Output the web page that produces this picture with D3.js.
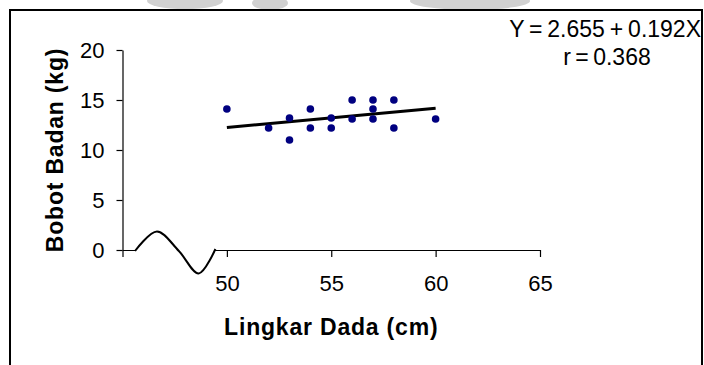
<!DOCTYPE html>
<html>
<head>
<meta charset="utf-8">
<script src="https://cdn.jsdelivr.net/npm/d3@7"></script>
<style>
  html, body { margin: 0; padding: 0; background: #fff; }
  svg { display: block; }
  text { font-family: Arial, "Liberation Sans", sans-serif; }
</style>
</head>
<body>
<svg id="chart" width="704" height="365"></svg>
<script>
// ---- data ----
const lingkarDada = [50, 52, 53, 53, 54, 54, 55, 55, 56, 56, 57, 57, 57, 58, 58, 60];
const bobotBadan  = [14.1, 12.2, 13.2, 11.0, 14.1, 12.2, 13.2, 12.2, 15.0, 13.1, 15.0, 14.1, 13.1, 15.0, 12.2, 13.1];
const trendX = [50, 60];
const trendY = [12.255, 14.175];
const xTicks = [45, 50, 55, 60, 65];
const xTickLabels = ["", "50", "55", "60", "65"];
const yTicks = [0, 5, 10, 15, 20];
const yTickLabels = ["0", "5", "10", "15", "20"];
const xTitle = "Lingkar Dada (cm)";
const yTitle = "Bobot Badan (kg)";
const equationText = "Y = 2.655 + 0.192X";
const rText = "r = 0.368";
// axis-break squiggle (data units, decoration only)
const breakX = [45.6, 46.65, 47.7, 48.65, 49.45];
const breakY = [-0.1, 1.85, -0.1, -2.35, 0.1];

const svg = d3.select("#chart");

// faint watermark fragments at the top edge
const wm = svg.append("g").attr("fill", "#9a9a9a").attr("opacity", 0.45);
wm.append("ellipse").attr("cx", 185).attr("cy", 1).attr("rx", 38).attr("ry", 8);
wm.append("ellipse").attr("cx", 270).attr("cy", 3).attr("rx", 18).attr("ry", 7);
wm.append("ellipse").attr("cx", 470).attr("cy", 1).attr("rx", 60).attr("ry", 9);

// frame
svg.append("rect")
  .attr("x", 10).attr("y", 10).attr("width", 692).attr("height", 420)
  .attr("fill", "#fff").attr("stroke", "#000").attr("stroke-width", 2);

const x = d3.scaleLinear().domain([45, 65]).range([122.5, 540]);
const y = d3.scaleLinear().domain([0, 20]).range([250, 50]);

// y axis
const yAxis = d3.axisLeft(y)
  .tickValues(yTicks)
  .tickFormat((d, i) => yTickLabels[i])
  .tickSizeInner(6).tickSizeOuter(0).tickPadding(12);
const gy = svg.append("g").attr("transform", `translate(${x(45)},0)`).call(yAxis);
gy.select(".domain").attr("stroke", "#000").attr("stroke-width", 1.2);
gy.selectAll(".tick line").attr("stroke", "#000").attr("stroke-width", 1.2);
gy.selectAll(".tick text").attr("font-size", 22).attr("fill", "#000")
  .attr("font-family", "Arial, 'Liberation Sans', sans-serif");

// x axis
const xAxis = d3.axisBottom(x)
  .tickValues(xTicks)
  .tickFormat((d, i) => xTickLabels[i])
  .tickSizeInner(7).tickSizeOuter(0).tickPadding(18);
const gx = svg.append("g").attr("transform", `translate(0,${y(0)})`).call(xAxis);
gx.select(".domain").attr("stroke", "#000").attr("stroke-width", 1.2);
gx.selectAll(".tick line").attr("stroke", "#000").attr("stroke-width", 1.2);
gx.selectAll(".tick text").attr("font-size", 22).attr("fill", "#000")
  .attr("font-family", "Arial, 'Liberation Sans', sans-serif");

// axis break: hide axis segment and draw squiggle
svg.append("rect")
  .attr("x", x(breakX[0]) + 1).attr("y", y(0) - 2)
  .attr("width", x(breakX[breakX.length - 1]) - x(breakX[0]) - 2).attr("height", 4)
  .attr("fill", "#fff");
svg.append("path")
  .datum(breakX.map((v, i) => [v, breakY[i]]))
  .attr("d", d3.line().x(d => x(d[0])).y(d => y(d[1])).curve(d3.curveCatmullRom))
  .attr("fill", "none").attr("stroke", "#000").attr("stroke-width", 2);

// trend line
svg.append("path")
  .datum(trendX.map((v, i) => [v, trendY[i]]))
  .attr("d", d3.line().x(d => x(d[0])).y(d => y(d[1])))
  .attr("fill", "none").attr("stroke", "#000").attr("stroke-width", 3);

// points
svg.append("g").selectAll("circle")
  .data(lingkarDada.map((v, i) => [v, bobotBadan[i]]))
  .join("circle")
  .attr("cx", d => x(d[0])).attr("cy", d => y(d[1])).attr("r", 3.8)
  .attr("fill", "#000080");

// axis titles
svg.append("text")
  .attr("x", x(55)).attr("y", 335)
  .attr("text-anchor", "middle")
  .attr("font-size", 23).attr("font-weight", "bold")
  .attr("letter-spacing", "0.8px")
  .text(xTitle);

svg.append("text")
  .attr("transform", `translate(63,${y(10)}) rotate(-90)`)
  .attr("text-anchor", "middle")
  .attr("font-size", 23).attr("font-weight", "bold")
  .attr("letter-spacing", "0.8px")
  .text(yTitle);

// equation
svg.append("text")
  .attr("x", 701).attr("y", 37)
  .attr("text-anchor", "end")
  .attr("font-size", 23).attr("word-spacing", "-1.5px")
  .text(equationText);
svg.append("text")
  .attr("x", 607).attr("y", 65)
  .attr("text-anchor", "middle")
  .attr("font-size", 23).attr("word-spacing", "-2px")
  .text(rText);
</script>
</body>
</html>
